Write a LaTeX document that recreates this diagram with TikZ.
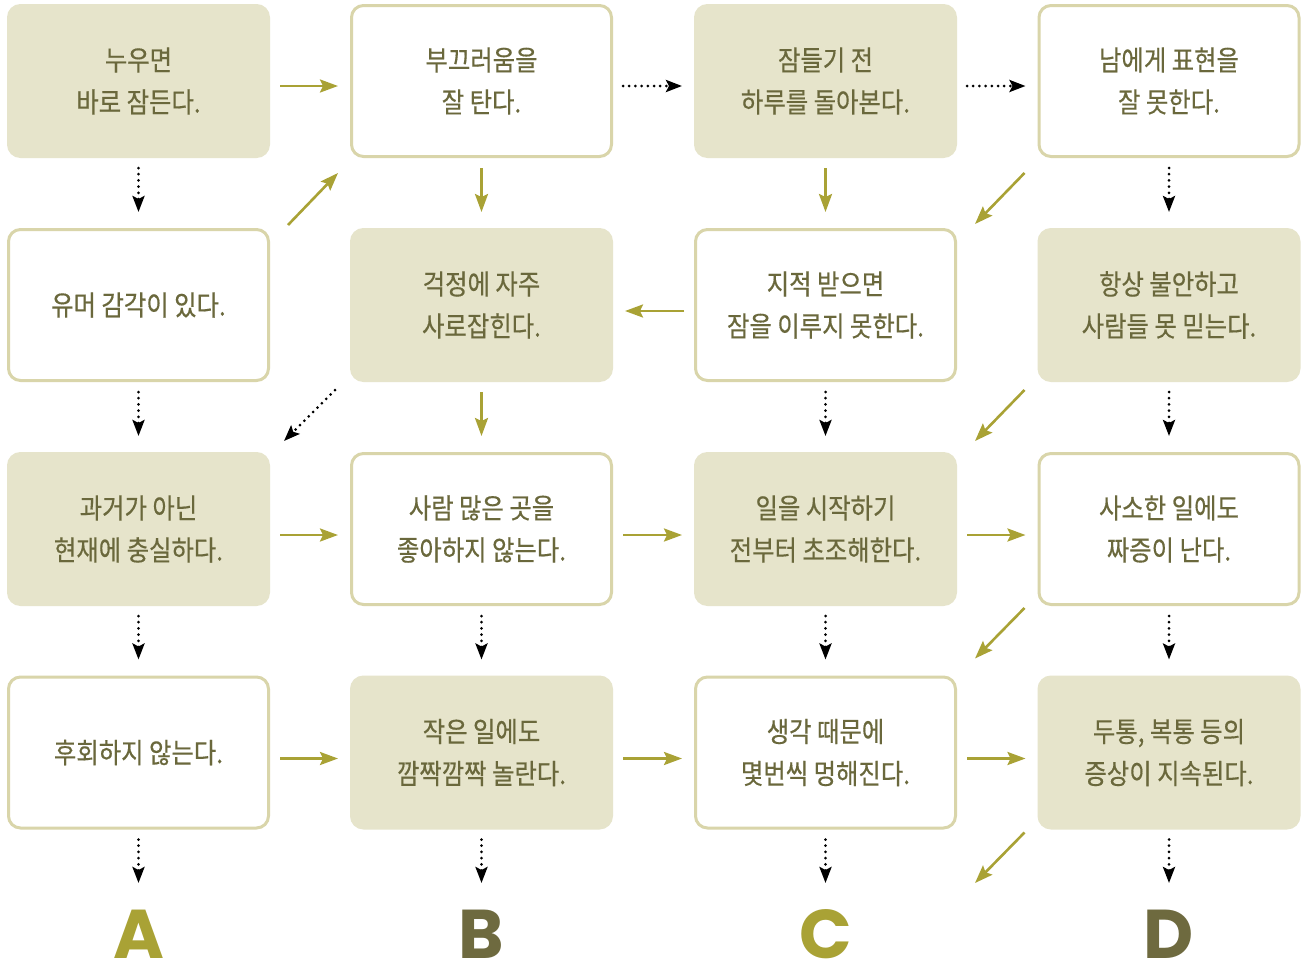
\documentclass[tikz,border=0pt]{standalone}
\usepackage{fontspec}
\usetikzlibrary{arrows.meta}
\newfontfamily\kofont[FakeStretch=0.87,FakeBold=0.4]{Noto Sans CJK KR}
\newfontfamily\letterfont{Poppins}
\definecolor{boxfill}{HTML}{E6E4CB}
\definecolor{boxline}{HTML}{D9D5AA}
\definecolor{txtcol}{HTML}{6A683C}
\definecolor{olive}{HTML}{A9A235}
\definecolor{darkolive}{HTML}{6E6A3F}
\tikzset{
  box/.style={rounded corners=12pt, minimum width=260pt, minimum height=151pt,
    line width=3pt, align=center, text=txtcol,
    font=\kofont\fontsize{28pt}{42pt}\selectfont, inner sep=0pt},
  filledbox/.style={box, fill=boxfill, draw=boxfill},
  whitebox/.style={box, fill=white, draw=boxline},
  oarrow/.style={draw=olive, line width=2.6pt, -{Stealth[length=18pt,width=13pt,inset=3pt]}},
  darrow/.style={draw=black, line width=3pt, line cap=round, dash pattern=on 0pt off 6.2pt,
    -{Stealth[length=16pt,width=12pt,inset=3pt]}},
  hgap/.style={shorten <=10pt, shorten >=12pt},
  vgap/.style={shorten <=10pt, shorten >=16pt},
  bigletter/.style={font=\letterfont\bfseries\fontsize{69pt}{69pt}\selectfont, inner sep=0pt,
    text depth=0pt, anchor=base}
}
\begin{document}
\begin{tikzpicture}[x=1pt,y=-1pt]
\useasboundingbox[fill=white] (0,0) rectangle (1307,964);
% row 1
\node[filledbox] (r1c1) at (138.5,81) {누우면\\바로 잠든다.};
\node[whitebox]  (r1c2) at (481.5,81) {부끄러움을\\잘 탄다.};
\node[filledbox] (r1c3) at (825.5,81) {잠들기 전\\하루를 돌아본다.};
\node[whitebox]  (r1c4) at (1169,81) {남에게 표현을\\잘 못한다.};
% row 2
\node[whitebox]  (r2c1) at (138.5,305) {유머 감각이 있다.};
\node[filledbox] (r2c2) at (481.5,305) {걱정에 자주\\사로잡힌다.};
\node[whitebox]  (r2c3) at (825.5,305) {지적 받으면\\잠을 이루지 못한다.};
\node[filledbox] (r2c4) at (1169,305) {항상 불안하고\\사람들 못 믿는다.};
% row 3
\node[filledbox] (r3c1) at (138.5,529) {과거가 아닌\\현재에 충실하다.};
\node[whitebox]  (r3c2) at (481.5,529) {사람 많은 곳을\\좋아하지 않는다.};
\node[filledbox] (r3c3) at (825.5,529) {일을 시작하기\\전부터 초조해한다.};
\node[whitebox]  (r3c4) at (1169,529) {사소한 일에도\\짜증이 난다.};
% row 4
\node[whitebox]  (r4c1) at (138.5,752.5) {후회하지 않는다.};
\node[filledbox] (r4c2) at (481.5,752.5) {작은 일에도\\깜짝깜짝 놀란다.};
\node[whitebox]  (r4c3) at (825.5,752.5) {생각 때문에\\몇번씩 멍해진다.};
\node[filledbox] (r4c4) at (1169,752.5) {두통, 복통 등의\\증상이 지속된다.};
% letters
\node[bigletter, text=olive]     (LA) at (138.5,958) {A};
\node[bigletter, text=darkolive] (LB) at (481.5,958) {B};
\node[bigletter, text=olive]     (LC) at (825.5,958) {C};
\node[bigletter, text=darkolive] (LD) at (1169,958) {D};
\coordinate (eA) at (138.5,883);
\coordinate (eB) at (481.5,883);
\coordinate (eC) at (825.5,883);
\coordinate (eD) at (1169,883);
\coordinate (eX) at (975,883);
% horizontal arrows
\draw[oarrow,hgap] ([yshift=-5pt]r1c1.east) -- ([yshift=-5pt]r1c2.west);
\draw[darrow,hgap] ([yshift=-5pt]r1c2.east) -- ([yshift=-5pt]r1c3.west);
\draw[darrow,hgap] ([yshift=-5pt]r1c3.east) -- ([yshift=-5pt]r1c4.west);
\draw[oarrow,hgap] ([yshift=-6pt]r2c3.west) -- ([yshift=-6pt]r2c2.east);
\draw[oarrow,hgap] ([yshift=-6pt]r3c1.east) -- ([yshift=-6pt]r3c2.west);
\draw[oarrow,hgap] ([yshift=-6pt]r3c2.east) -- ([yshift=-6pt]r3c3.west);
\draw[oarrow,hgap] ([yshift=-6pt]r3c3.east) -- ([yshift=-6pt]r3c4.west);
\draw[oarrow,hgap] ([yshift=-6pt]r4c1.east) -- ([yshift=-6pt]r4c2.west);
\draw[oarrow,hgap] ([yshift=-6pt]r4c2.east) -- ([yshift=-6pt]r4c3.west);
\draw[oarrow,hgap] ([yshift=-6pt]r4c3.east) -- ([yshift=-6pt]r4c4.west);
% vertical arrows
\draw[darrow,vgap] (r1c1.south) -- (r2c1.north);
\draw[oarrow,vgap] (r1c2.south) -- (r2c2.north);
\draw[oarrow,vgap] (r1c3.south) -- (r2c3.north);
\draw[darrow,vgap] (r1c4.south) -- (r2c4.north);
\draw[darrow,vgap] (r2c1.south) -- (r3c1.north);
\draw[oarrow,vgap] (r2c2.south) -- (r3c2.north);
\draw[darrow,vgap] (r2c3.south) -- (r3c3.north);
\draw[darrow,vgap] (r2c4.south) -- (r3c4.north);
\draw[darrow,vgap] (r3c1.south) -- (r4c1.north);
\draw[darrow,vgap] (r3c2.south) -- (r4c2.north);
\draw[darrow,vgap] (r3c3.south) -- (r4c3.north);
\draw[darrow,vgap] (r3c4.south) -- (r4c4.north);
\draw[darrow,shorten <=10pt] (r4c1.south) -- (eA);
\draw[darrow,shorten <=10pt] (r4c2.south) -- (eB);
\draw[darrow,shorten <=10pt] (r4c3.south) -- (eC);
\draw[darrow,shorten <=10pt] (r4c4.south) -- (eD);
% diagonal arrows
\draw[oarrow] ([xshift=18pt,yshift=3pt]r2c1.north east) -- ([xshift=-12pt,yshift=-15pt]r1c2.south west);
\draw[oarrow] ([xshift=-13pt,yshift=-15pt]r1c4.south west) -- ([xshift=18pt,yshift=4pt]r2c3.north east);
\draw[darrow] ([xshift=-15pt,yshift=-8pt]r2c2.south west) -- ([xshift=14pt,yshift=11pt]r3c1.north east);
\draw[oarrow] ([xshift=-13pt,yshift=-8pt]r2c4.south west) -- ([xshift=18pt,yshift=11pt]r3c3.north east);
\draw[oarrow] ([xshift=-13pt,yshift=-2pt]r3c4.south west) -- ([xshift=18pt,yshift=17pt]r4c3.north east);
\draw[oarrow] ([xshift=-13pt,yshift=-3pt]r4c4.south west) -- (eX);
\end{tikzpicture}
\end{document}
